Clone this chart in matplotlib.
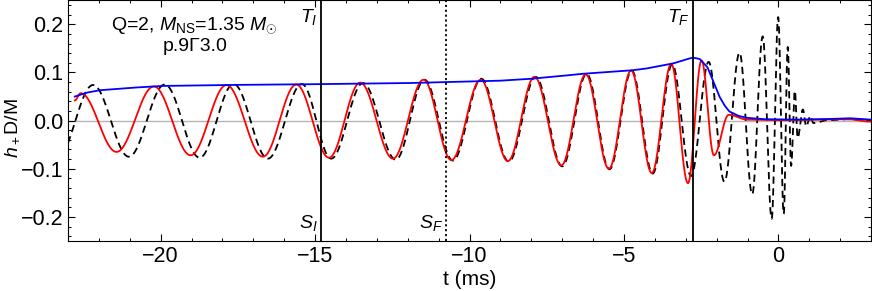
import numpy as np
import matplotlib
matplotlib.use("Agg")
import matplotlib.pyplot as plt
from matplotlib.ticker import MultipleLocator

plt.rcParams['font.family'] = ['Liberation Sans', 'DejaVu Sans']
plt.rcParams['mathtext.fontset'] = 'custom'
plt.rcParams['mathtext.rm'] = 'Liberation Sans'
plt.rcParams['mathtext.it'] = 'Liberation Sans:italic'

# numerical-relativity waveform: extrema (t in ms, h+ D/M)
nr_t = [-23.35, -22.19, -21.03, -19.87, -18.74, -17.64, -16.53, -15.43, -14.48,
        -13.45, -12.39, -11.46, -10.54, -9.62, -8.73, -7.86, -7.00, -6.21, -5.47,
        -4.75, -4.07, -3.44, -2.83, -2.26, -1.75, -1.26, -0.85, -0.51, -0.22,
        -0.01, 0.17, 0.30, 0.41, 0.53, 0.62, 0.79, 0.90, 1.03, 1.13, 1.6, 2.3, 3.0]
nr_h = [-0.078, 0.074, -0.075, 0.075, -0.077, 0.076, -0.079, 0.076, -0.079,
        0.078, -0.081, 0.085, -0.083, 0.087, -0.085, 0.091, -0.095, 0.097, -0.101,
        0.104, -0.110, 0.117, -0.115, 0.122, -0.127, 0.141, -0.153, 0.175, -0.204,
        0.215, -0.194, 0.153, -0.094, 0.062, -0.036, 0.023, -0.012, 0.010, -0.005,
        0.001, 0.003, 0.000]

# model waveform: extrema
md_t = [-22.78, -22.59, -21.43, -20.22, -19.03, -17.87, -16.69, -15.61, -14.55,
        -13.54, -12.48, -11.49, -10.59, -9.64, -8.76, -7.90, -7.03, -6.24, -5.49,
        -4.77, -4.10, -3.47, -2.93, -2.49, -2.09, -1.61, -1.0, 0.0, 1.5, 2.2, 3.0]
md_h = [0.042, 0.057, -0.065, 0.071, -0.072, 0.074, -0.075, 0.075, -0.077,
        0.079, -0.079, 0.085, -0.082, 0.085, -0.084, 0.091, -0.093, 0.096, -0.100,
        0.104, -0.109, 0.118, -0.130, 0.125, -0.072, 0.012, 0.002, 0.001, 0.002,
        0.003, -0.002]

# model amplitude
amp_t = [-22.78, -22.4, -22.0, -21.0, -20.0, -18.0, -16.0, -14.6, -12.0, -10.75,
         -9.0, -8.0, -7.0, -6.4, -5.5, -4.8, -4.3, -3.8, -3.4, -3.0, -2.77,
         -2.55, -2.3, -2.13, -1.91, -1.75, -1.59, -1.3, -1.05, -0.5, 0.5, 1.5,
         2.3, 3.0]
amp_h = [0.050, 0.058, 0.063, 0.068, 0.072, 0.074, 0.075, 0.076, 0.078, 0.080,
         0.083, 0.087, 0.093, 0.097, 0.101, 0.104, 0.108, 0.114, 0.119, 0.127,
         0.131, 0.128, 0.111, 0.085, 0.050, 0.032, 0.019, 0.010, 0.006, 0.003,
         0.002, 0.003, 0.005, 0.002]

t_SI = -14.8
t_SF = -10.75
t_TF = -2.76


def through_extrema(tt, hh, n=60):
    # half-cosine segments between successive turning points
    xs, ys = [], []
    for i in range(len(tt) - 1):
        s = np.linspace(0, 1, n, endpoint=False)
        xs.append(tt[i] + (tt[i + 1] - tt[i]) * s)
        ys.append((hh[i] + hh[i + 1]) / 2 + (hh[i] - hh[i + 1]) / 2 * np.cos(np.pi * s))
    xs.append([tt[-1]])
    ys.append([hh[-1]])
    return np.concatenate(xs), np.concatenate(ys)


fig = plt.figure(figsize=(8.72, 2.91), dpi=100)
ax = fig.add_axes([0.078, 0.172, 0.921, 0.827])

ax.axhline(0, color='#b4b4b4', lw=1.0, zorder=1)

x, y = through_extrema(nr_t, nr_h)
ax.plot(x, y, color='black', lw=1.3, dashes=(4, 2.5), zorder=2)
x, y = through_extrema(md_t, md_h)
ax.plot(x, y, color='red', lw=1.3, zorder=3)
ta = np.linspace(amp_t[0], amp_t[-1], 800)
ax.plot(ta, np.interp(ta, amp_t, amp_h), color='blue', lw=1.3, zorder=4)

ax.axvline(t_SI, color='black', lw=1.3, zorder=5)
ax.axvline(t_SF, color='black', lw=1.3, ls=(0, (1.2, 1.5)), zorder=5)
ax.axvline(t_TF, color='black', lw=1.3, zorder=5)

ax.text(t_SI - 0.12, 0.237, r'$T_I$', ha='right', va='top', fontsize=14)
ax.text(t_SI - 0.12, -0.234, r'$S_I$', ha='right', va='bottom', fontsize=14)
ax.text(t_SF - 0.12, -0.234, r'$S_F$', ha='right', va='bottom', fontsize=14)
ax.text(t_TF - 0.12, 0.237, r'$T_F$', ha='right', va='top', fontsize=14)

ax.text(-18.9, 0.198, r'Q=2, $M_{\mathrm{NS}}$=1.35 $M_{\odot}$', ha='center',
        va='center', fontsize=14)
ax.text(-18.9, 0.153, 'p.9\u03933.0', ha='center', va='center', fontsize=14)

ax.set_xlim(-23, 3)
ax.set_ylim(-0.25, 0.25)
ax.xaxis.set_major_locator(MultipleLocator(5))
ax.xaxis.set_minor_locator(MultipleLocator(1))
ax.yaxis.set_major_locator(MultipleLocator(0.1))
ax.yaxis.set_minor_locator(MultipleLocator(0.02))
ax.tick_params(which='both', direction='in', top=True, right=True, labelsize=15.5)
ax.tick_params(which='major', length=5, width=0.8)
ax.tick_params(which='minor', length=2.5, width=0.7)
ax.set_yticks([-0.2, -0.1, 0.0, 0.1, 0.2])
ax.set_yticklabels(['\u22120.2', '\u22120.1', '0.0', '0.1', '0.2'])
ax.set_xlabel('t (ms)', fontsize=15, labelpad=2)
ax.set_ylabel(r'$h_+$D/M', fontsize=14)
ax.yaxis.set_label_coords(-0.058, 0.47)

fig.savefig('out.png', dpi=100)
